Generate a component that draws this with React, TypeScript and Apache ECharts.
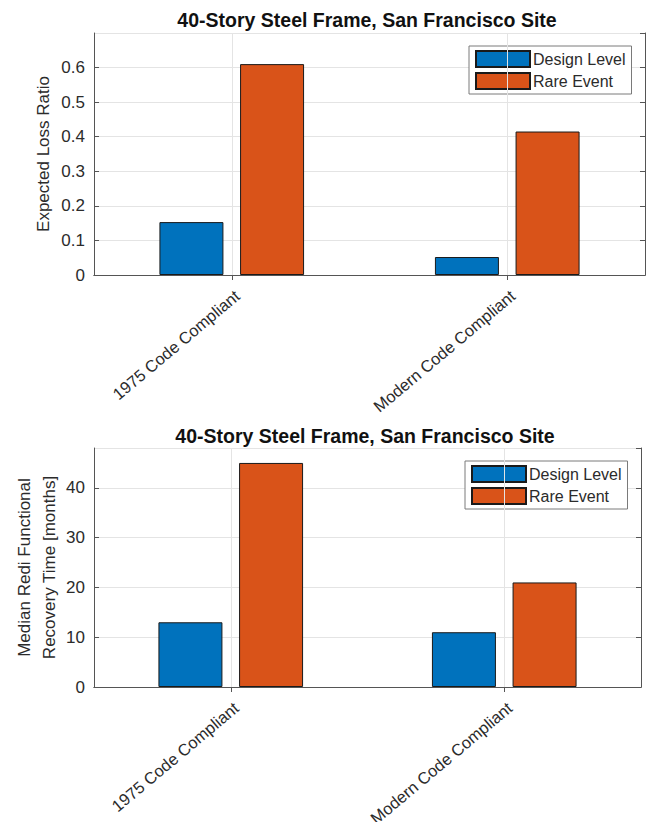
import React, { useEffect, useRef } from "react";
import * as echarts from "echarts";

// Building archetypes on the horizontal axis
const categories = ["1975 Code Compliant", "Modern Code Compliant"];
const seriesNames = ["Design Level", "Rare Event"];

// Expected loss ratio per hazard level
const lossDesign = [0.153, 0.052];
const lossRare = [0.61, 0.415];

// Median REDi functional recovery time, months
const recoveryDesign = [13, 11];
const recoveryRare = [45, 21];

const titleText = "40-Story Steel Frame, San Francisco Site";
const lossAxisName = "Expected Loss Ratio";
const recoveryAxisName = "Median Redi Functional\nRecovery Time [months]";

const BLUE = "#0072BD";
const ORANGE = "#D95319";
const INK = "#2b2b2b";
const AXIS = "#555555";
const GRID = "#e4e4e4";
const FONT = "'Liberation Sans', Arial, Helvetica, sans-serif";

export default function App() {
  const ref = useRef<HTMLDivElement>(null);

  useEffect(() => {
    if (!ref.current) return;
    const chart = echarts.init(ref.current, undefined, { renderer: "svg" });

    const grids = [
      { left: 94, top: 33, width: 551, height: 242, outerBoundsMode: "none", containLabel: false },
      { left: 94, top: 448, width: 547, height: 239, outerBoundsMode: "none", containLabel: false },
    ];

    const bottomX = (gridIndex: number) => ({
      type: "category",
      gridIndex,
      position: "bottom",
      data: categories,
      axisLine: { show: true, lineStyle: { color: AXIS, width: 1 } },
      axisTick: { show: true, inside: true, alignWithLabel: true, length: 5, lineStyle: { color: AXIS } },
      axisLabel: {
        rotate: 40,
        margin: 12,
        verticalAlign: "top",
        color: INK,
        fontSize: 16.5,
        fontFamily: FONT,
        interval: 0,
      },
      splitLine: { show: false },
    });

    const topX = (gridIndex: number) => ({
      type: "category",
      gridIndex,
      position: "top",
      data: categories,
      axisLine: { show: true, lineStyle: { color: AXIS, width: 1 } },
      axisTick: { show: true, inside: true, alignWithLabel: true, length: 5, lineStyle: { color: AXIS } },
      axisLabel: { show: false },
      splitLine: { show: false },
    });

    const leftY = (
      gridIndex: number,
      max: number,
      interval: number,
      name: string,
      nameGap: number
    ) => ({
      type: "value",
      gridIndex,
      position: "left",
      min: 0,
      max,
      interval,
      name,
      nameLocation: "middle",
      nameGap,
      nameMoveOverlap: false,
      nameTextStyle: { color: INK, fontSize: 17, fontFamily: FONT, lineHeight: 25 },
      axisLine: { show: true, lineStyle: { color: AXIS, width: 1 } },
      axisTick: { show: true, inside: true, length: 5, lineStyle: { color: AXIS } },
      axisLabel: {
        color: INK,
        fontSize: 17,
        fontFamily: FONT,
        margin: 9,
        showMaxLabel: false,
      },
      splitLine: { show: true, lineStyle: { color: GRID, width: 1 } },
    });

    const rightY = (gridIndex: number, max: number, interval: number) => ({
      type: "value",
      gridIndex,
      position: "right",
      min: 0,
      max,
      interval,
      axisLine: { show: true, lineStyle: { color: AXIS, width: 1 } },
      axisTick: { show: true, inside: true, length: 5, lineStyle: { color: AXIS } },
      axisLabel: { show: false },
      splitLine: { show: false },
    });

    // Vertical grid lines at each category centre, carried by an empty line series
    const categoryGrid = (axisIndex: number) => ({
      type: "line",
      name: "category-grid",
      xAxisIndex: axisIndex,
      yAxisIndex: axisIndex,
      data: [],
      silent: true,
      z: 1,
      markLine: {
        silent: true,
        symbol: "none",
        label: { show: false },
        lineStyle: { color: GRID, type: "solid", width: 1 },
        data: categories.map((c) => ({ xAxis: c })),
      },
    });

    const bar = (name: string, data: number[], color: string, axisIndex: number) => ({
      type: "bar",
      name,
      data,
      xAxisIndex: axisIndex,
      yAxisIndex: axisIndex,
      barWidth: 64,
      barGap: "26%",
      z: 3,
      itemStyle: { color, borderColor: "#1a1a1a", borderWidth: 1 },
    });

    const legend = (left: number, top: number) => ({
      data: seriesNames,
      orient: "vertical",
      left,
      top,
      padding: [4, 6, 4, 6],
      itemWidth: 54,
      itemHeight: 16,
      itemGap: 4,
      icon: "rect",
      backgroundColor: "#ffffff",
      borderColor: "#7a7a7a",
      borderWidth: 1,
      borderRadius: 0,
      selectedMode: false,
      textStyle: { color: INK, fontSize: 16, fontFamily: FONT, padding: [0, 0, 0, -2] },
    });

    const title = (left: number, top: number) => ({
      text: titleText,
      left,
      top,
      textAlign: "center",
      padding: 0,
      textStyle: { color: "#111111", fontSize: 19.5, fontWeight: "bold", fontFamily: FONT },
    });

    chart.setOption({
      animation: false,
      backgroundColor: "#ffffff",
      title: [title(367, 10), title(365, 426)],
      legend: [legend(469, 46), legend(465, 461)],
      grid: grids,
      xAxis: [bottomX(0), topX(0), bottomX(1), topX(1)],
      yAxis: [
        leftY(0, 0.7, 0.1, lossAxisName, 38.5),
        rightY(0, 0.7, 0.1),
        leftY(1, 48, 10, recoveryAxisName, 32.5),
        rightY(1, 48, 10),
      ],
      series: [
        categoryGrid(0),
        categoryGrid(2),
        bar(seriesNames[0], lossDesign, BLUE, 0),
        bar(seriesNames[1], lossRare, ORANGE, 0),
        bar(seriesNames[0], recoveryDesign, BLUE, 2),
        bar(seriesNames[1], recoveryRare, ORANGE, 2),
      ],
    });

    return () => chart.dispose();
  }, []);

  return (
    <div
      ref={ref}
      style={{ position: "fixed", left: 0, top: 0, width: 646, height: 822, background: "#fff" }}
    />
  );
}
